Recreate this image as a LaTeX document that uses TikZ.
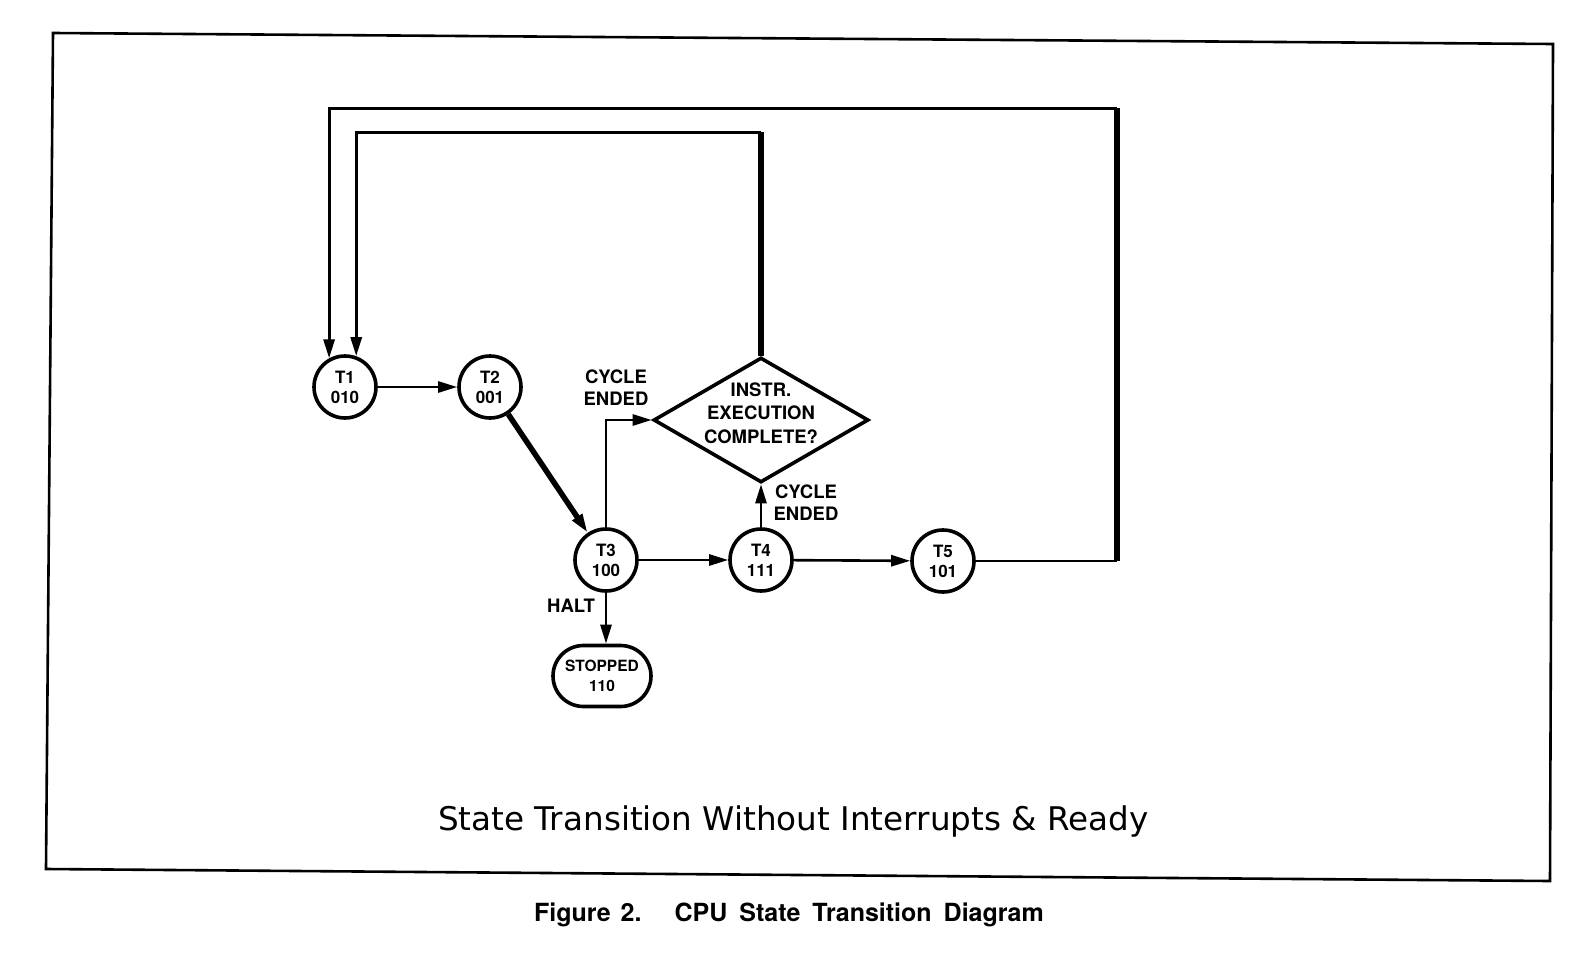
\documentclass[tikz,border=0pt]{standalone}
\usepackage{fontspec}
\setmainfont{TeX Gyre Heros}
\newfontfamily\capfont{DejaVu Sans}
\usetikzlibrary{arrows.meta,shapes.geometric,shapes.misc}
\begin{document}
\begin{tikzpicture}[x=1pt,y=-1pt,
  statenode/.style={circle,draw,line width=3.6pt,minimum size=62pt,inner sep=0pt,align=center,
    font=\fontsize{17}{20}\selectfont\bfseries},
  stopnode/.style={rounded rectangle,draw,line width=3.6pt,minimum width=98pt,minimum height=61pt,
    inner sep=0pt,align=center,font=\fontsize{15.5}{20}\selectfont\bfseries},
  decnode/.style={diamond,draw,line width=3.6pt,aspect=1.72,inner sep=0pt,minimum width=215pt,
    minimum height=125pt,font=\fontsize{18.5}{23.5}\selectfont\bfseries},
  lbl/.style={align=center,inner sep=0pt,font=\fontsize{18.5}{22}\selectfont\bfseries},
  conn/.style={line width=2.6pt},
  heavy/.style={line width=5.5pt},
  arr/.style={-{Triangle[length=19pt,width=11pt]}},
]
\useasboundingbox (0,0) rectangle (1588,964);
% frame
\draw[line width=2.6pt] (53,33) -- (1553,44) -- (1550,881) -- (46,869) -- cycle;

% states
\node[statenode] (T1) at (345,387) {T1\\010};
\node[statenode] (T2) at (490,387) {T2\\001};
\node[statenode] (T3) at (606,560) {T3\\100};
\node[statenode] (T4) at (761,560) {T4\\111};
\node[statenode] (T5) at (943,561) {T5\\101};
\node[stopnode] (ST) at (602,676) {STOPPED\\110};
\node[decnode] (D) at (761,420)
  {\raisebox{0.5pt}[0pt][0pt]{\begin{tabular}{@{}c@{}}INSTR.\\EXECUTION\\COMPLETE?\end{tabular}}};

% labels
\node[lbl] (L1) at (616,388) {CYCLE\\ENDED};
\node[lbl] (L2) at (806,503) {CYCLE\\ENDED};
\node[lbl] (L3) at (571,606) {HALT};

% connectors
\draw[conn,arr] (T1) -- (T2);
\draw[heavy,arr] (T2) -- (T3);
\draw[conn,arr] (T3) -- (T4);
\draw[conn,arr] (T4) -- (T5);
\draw[conn,arr] (T3.south) -- (T3.south |- ST.north);
\draw[conn,arr] (T3.north) |- (D.west);
\draw[conn,arr] (T4.north) -- (D.south);

% outer loop T5 -> T1
\coordinate (C1) at (1117,108);
\draw[conn] (T5.east) -- (T5.east -| C1);
\draw[heavy] (T5.east -| C1) -- (C1);
\draw[conn,line width=3pt,arr] (C1) -| (T1.119);

% inner loop decision -> T1
\coordinate (C2) at (762,132);
\draw[heavy] (D.north) -- (D.north |- C2);
\draw[conn,line width=3pt,arr] (D.north |- C2) -| (T1.70);

% captions
\node[anchor=base west,inner sep=0pt,font=\capfont\fontsize{32.6}{36}\selectfont] (cap1) at (438,830)
  {State Transition Without Interrupts \& Ready};
\node[anchor=base west,inner sep=0pt,font=\fontsize{25}{30}\selectfont\bfseries] (cap2) at (534,921)
  {Figure\hspace{10pt}2.\hspace{33pt}CPU\hspace{12pt}State\hspace{12pt}Transition\hspace{12pt}Diagram};
\end{tikzpicture}
\end{document}
